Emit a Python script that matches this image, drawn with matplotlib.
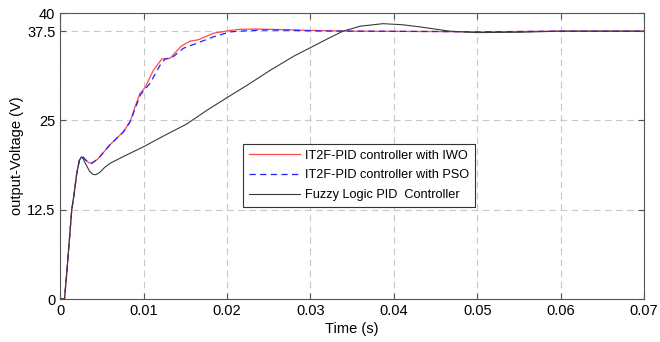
import matplotlib.pyplot as plt
import numpy as np

plt.rcParams['font.family'] = ['Liberation Sans', 'DejaVu Sans']

# IT2F-PID with IWO (red)
t_iwo = [0, 0.0005, 0.00077, 0.00108, 0.00137, 0.00164, 0.00197, 0.00228, 0.00250, 0.00264, 0.0028, 0.0030,
         0.0034, 0.00376, 0.0045, 0.00596, 0.00756, 0.00836, 0.00896, 0.00956, 0.01016, 0.01115,
         0.01216, 0.01315, 0.0145, 0.01555, 0.01655, 0.01835, 0.02035, 0.0215, 0.0235, 0.027,
         0.030, 0.035, 0.045, 0.050, 0.055, 0.060, 0.070]
v_iwo = [0, 0, 3.6, 8.2, 12.5, 14.6, 17.6, 19.4, 19.85, 19.9, 19.8, 19.5,
         19.1, 19.0, 19.6, 21.6, 23.4, 24.8, 26.9, 28.8, 29.6, 32.0,
         33.6, 33.7, 35.4, 36.1, 36.3, 37.2, 37.6, 37.75, 37.8, 37.7,
         37.6, 37.5, 37.45, 37.4, 37.45, 37.5, 37.5]

# IT2F-PID with PSO (blue dashed)
t_pso = [0, 0.0005, 0.00077, 0.00108, 0.00137, 0.00164, 0.00197, 0.00228, 0.00250, 0.00264, 0.0028, 0.0030,
         0.0034, 0.00376, 0.0045, 0.00596, 0.00756, 0.00836, 0.00896, 0.00956, 0.01016, 0.01076,
         0.01195, 0.01255, 0.01335, 0.01475, 0.01635, 0.01835, 0.02035, 0.0215, 0.024, 0.027,
         0.030, 0.035, 0.045, 0.050, 0.055, 0.060, 0.070]
v_pso = [0, 0, 3.6, 8.2, 12.5, 14.6, 17.6, 19.4, 19.85, 19.9, 19.8, 19.5,
         19.1, 19.0, 19.6, 21.6, 23.4, 24.8, 26.6, 28.5, 29.4, 30.2,
         32.7, 33.6, 33.75, 35.1, 35.8, 36.7, 37.4, 37.5, 37.65, 37.65,
         37.55, 37.5, 37.45, 37.4, 37.45, 37.5, 37.5]

# Fuzzy Logic PID (black)
t_flc = [0, 0.0005, 0.00077, 0.00108, 0.00137, 0.00164, 0.00197, 0.00228, 0.0025, 0.0027, 0.0030,
         0.0035, 0.0039, 0.00424, 0.0047, 0.0053, 0.00596, 0.0080, 0.00995, 0.0125, 0.01516, 0.01755, 0.020,
         0.0225, 0.02514, 0.028, 0.0305, 0.0325, 0.0339, 0.036, 0.0387, 0.041, 0.0431,
         0.0452, 0.0467, 0.0499, 0.0551, 0.060, 0.070]
v_flc = [0, 0, 3.6, 8.2, 12.5, 14.6, 17.6, 19.4, 19.85, 19.7, 19.0,
         17.9, 17.45, 17.4, 17.7, 18.4, 19.0, 20.2, 21.3, 22.9, 24.5, 26.4, 28.2,
         30.0, 32.0, 34.0, 35.5, 36.7, 37.5, 38.2, 38.55, 38.4, 38.1,
         37.75, 37.5, 37.3, 37.35, 37.5, 37.5]

yticks = [0, 12.5, 25, 37.5, 40]
ytick_labels = ['0', '12.5', '25', '37.5', '40']
xticks = [0, 0.01, 0.02, 0.03, 0.04, 0.05, 0.06, 0.07]
xtick_labels = ['0', '0.01', '0.02', '0.03', '0.04', '0.05', '0.06', '0.07']

fig = plt.figure(figsize=(6.6, 3.42), dpi=100)
ax = fig.add_axes([0.0914, 0.1257, 0.8844, 0.8354])

ax.plot(t_iwo, v_iwo, color='#ff4a4a', lw=0.9, label='IT2F-PID controller with IWO')
ax.plot(t_pso, v_pso, color='#2020ff', lw=0.9, ls=(0, (5, 3.5)), label='IT2F-PID controller with PSO')
ax.plot(t_flc, v_flc, color='#3a3a3a', lw=0.8, label='Fuzzy Logic PID  Controller')

ax.set_xlim(0, 0.07)
ax.set_ylim(0, 40)
ax.set_xticks(xticks)
ax.set_xticklabels(xtick_labels)
ax.set_yticks(yticks)
ax.set_yticklabels(ytick_labels)
ax.tick_params(direction='in', labelsize=10.5, length=4, top=True, right=True, color='#555555')
ax.grid(True, ls=(0, (6, 4)), color='#c8c8c8', lw=0.8)
for s in ax.spines.values():
    s.set_color('#555555')
    s.set_linewidth(0.8)

ax.set_xlabel('Time (s)', fontsize=10.5, labelpad=3)
ax.set_ylabel('output-Voltage (V)', fontsize=10.5, labelpad=2)

leg = ax.legend(loc='upper left', bbox_to_anchor=(0.313, 0.5425), fontsize=9.2,
                handlelength=4.0, fancybox=False, framealpha=1, edgecolor='#333333',
                borderpad=0.45, labelspacing=0.6, handletextpad=0.4, borderaxespad=0)
leg.get_frame().set_linewidth(0.8)

fig.savefig('out.png', dpi=100)
